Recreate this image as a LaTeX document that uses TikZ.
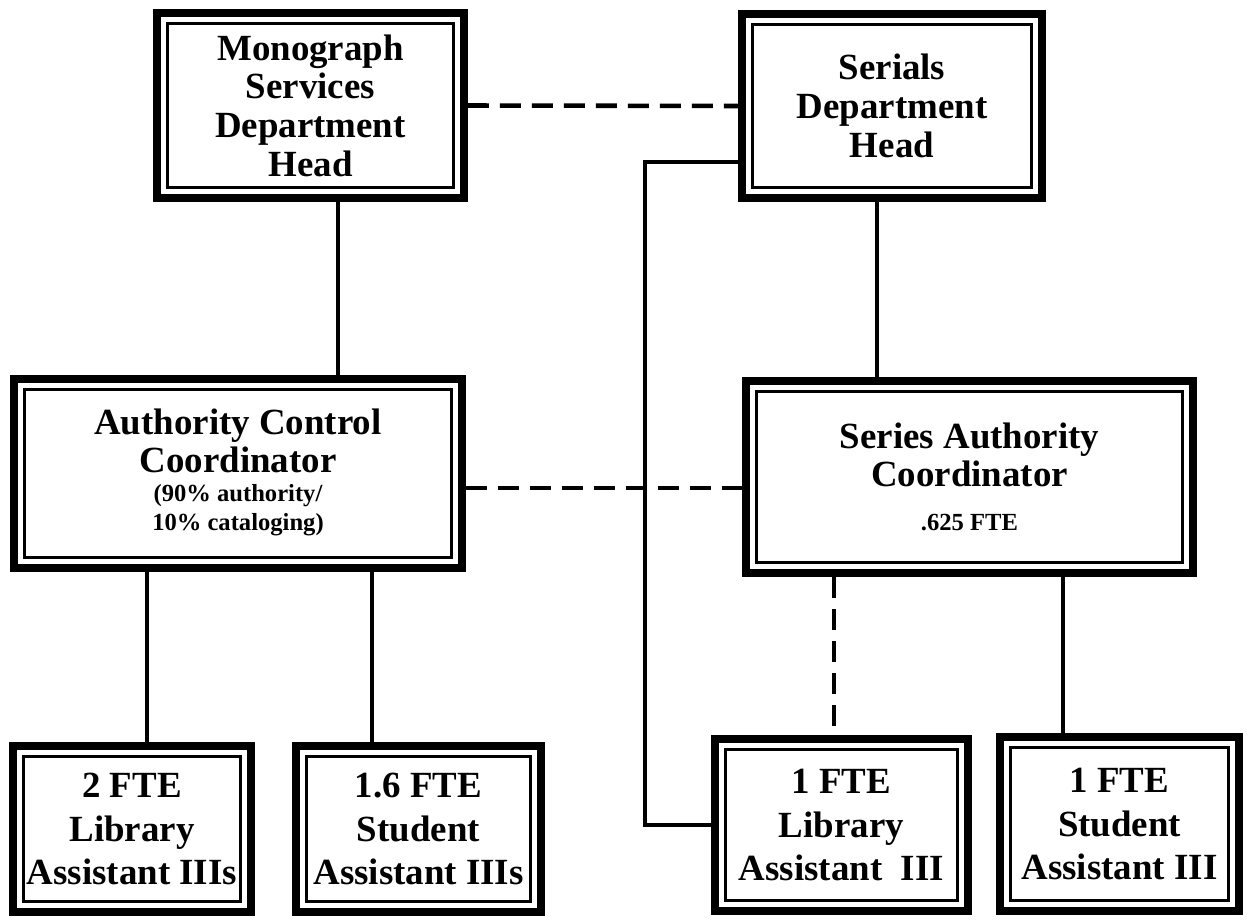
\documentclass[tikz,border=0pt]{standalone}
\usepackage{fontspec}
\setmainfont{Liberation Serif}
\begin{document}
\begin{tikzpicture}[x=0.02cm, y=-0.02cm,
  font=\bfseries\fontsize{21}{22}\selectfont,
  unit/.style 2 args={
    draw, line width=4.5pt,
    minimum width=#1,
    minimum height=#2,
    inner sep=0pt,
    align=center,
    fill=white,
    path picture={\draw[line width=1.3pt]
      ([shift={(6pt,-6pt)}]path picture bounding box.north west) rectangle
      ([shift={(-6pt,6pt)}]path picture bounding box.south east);}
  },
  staff/.style={font=\bfseries\fontsize{21}{25}\selectfont},
  link/.style={line width=2.6pt},
  dlink/.style={line width=2.6pt, dash pattern=on 0.42cm off 0.22cm}
]
  \useasboundingbox (0,0) rectangle (1250,919);
  \node[unit={6.14cm}{3.70cm}] (mono)    at (310.5,105.5) {Monograph\\Services\\Department\\Head};
  \node[unit={6.00cm}{3.68cm}] (serials) at (892,106)     {Serials\\Department\\Head};
  \node[unit={8.96cm}{3.78cm}] (acc)     at (238,473.5)
        {Authority Control\\Coordinator\\[3pt]\fontsize{14}{16}\selectfont
         \begin{tabular}{@{}c@{}}(90\% authority/\\10\% cataloging)\end{tabular}};
  \node[unit={8.94cm}{3.84cm}] (sac)     at (969.5,477)
        {Series Authority\\Coordinator\\[3pt]\fontsize{14}{16}\selectfont .625 FTE};
  \node[unit={4.76cm}{3.32cm}, staff] (lib2)  at (132,829)    {2 FTE\\Library\\Assistant IIIs};
  \node[unit={4.90cm}{3.32cm}, staff] (stu16) at (418.5,829)  {1.6 FTE\\Student\\Assistant IIIs};
  \node[unit={5.06cm}{3.44cm}, staff] (lib1)  at (841.5,825)  {1 FTE\\Library\\Assistant~~III};
  \node[unit={4.78cm}{3.48cm}, staff] (stu1)  at (1119.5,824) {1 FTE\\Student\\Assistant III};
  % connector positions
  \coordinate (xma) at (338,0);
  \coordinate (xss) at (877,0);
  \coordinate (xa1) at (147,0);
  \coordinate (xa2) at (372,0);
  \coordinate (xsl) at (834,0);
  \coordinate (xst) at (1063,0);
  \coordinate (ydm) at (0,488);
  \coordinate (el)  at (645,162);
  \draw[link] (mono.south -| xma) -- (acc.north -| xma);
  \draw[link] (serials.south -| xss) -- (sac.north -| xss);
  \draw[link] (acc.south -| xa1) -- (lib2.north -| xa1);
  \draw[link] (acc.south -| xa2) -- (stu16.north -| xa2);
  \draw[dlink] (sac.south -| xsl) -- (lib1.north -| xsl);
  \draw[link] (sac.south -| xst) -- (stu1.north -| xst);
  \draw[link] (serials.west |- el) -- (el) |- (lib1.west);
  \draw[dlink] (mono.east) -- (serials.west);
  \draw[dlink] (acc.east |- ydm) -- (sac.west |- ydm);
\end{tikzpicture}
\end{document}
